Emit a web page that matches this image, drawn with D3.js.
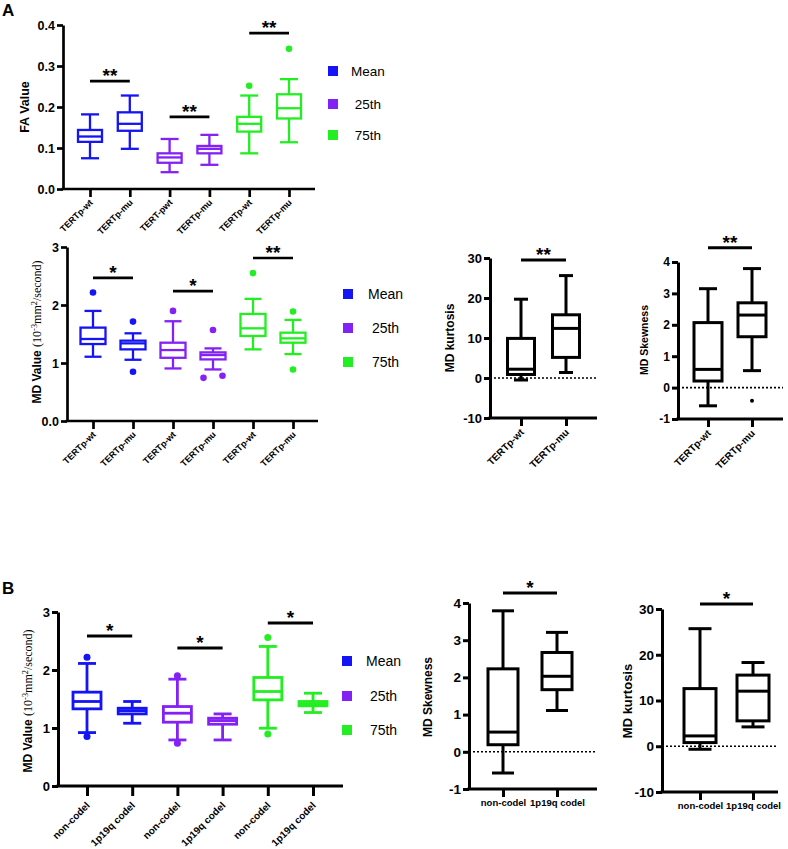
<!DOCTYPE html>
<html><head><meta charset="utf-8">
<script src="https://cdn.jsdelivr.net/npm/d3@7"></script>
<style>
body{margin:0;background:#fff;}
svg{display:block;font-family:"Liberation Sans",Arial,sans-serif;}
</style></head><body>
<svg id="c" width="788" height="849"></svg>
<script>
// ================= DATA =================
const groupColors = ["#1414f5", "#8422f5", "#22ee22"];
const legendLabels = ["Mean", " 25th", " 75th"];
const panelLetters = ["A", "B"];

// box stats: [lower whisker, Q1, median, Q3, upper whisker]
const faCategories = ["TERTp-wt", "TERTp-mu", "TERT-pwt", "TERTp-mu", "TERTp-wt", "TERTp-mu"];
const faBoxes = [
  [0.075, 0.115, 0.128, 0.144, 0.182],
  [0.098, 0.142, 0.159, 0.187, 0.228],
  [0.041, 0.064, 0.077, 0.087, 0.122],
  [0.059, 0.087, 0.098, 0.105, 0.132],
  [0.087, 0.140, 0.159, 0.176, 0.228],
  [0.114, 0.172, 0.197, 0.231, 0.268]
];
const faOutliers = [[], [], [], [], [0.252], [0.342]];
const faTicks = [0.0, 0.1, 0.2, 0.3, 0.4];
const faSig = [
  {from: 0, to: 1, level: 0.263, label: "**"},
  {from: 2, to: 3, level: 0.176, label: "**"},
  {from: 4, to: 5, level: 0.380, label: "**"}
];

const mdTertCategories = ["TERTp-wt", "TERTp-mu", "TERTp-wt", "TERTp-mu", "TERTp-wt", "TERTp-mu"];
const mdTertBoxes = [
  [1.108, 1.327, 1.414, 1.610, 1.898],
  [1.056, 1.235, 1.339, 1.385, 1.512],
  [0.906, 1.090, 1.223, 1.350, 1.720],
  [0.889, 1.062, 1.137, 1.183, 1.252],
  [1.235, 1.466, 1.598, 1.846, 2.106],
  [1.154, 1.350, 1.425, 1.523, 1.743]
];
const mdTertOutliers = [[2.216], [1.714, 0.848], [1.898], [1.569, 0.744, 0.779], [2.55], [1.887, 0.889]];
const mdTicks = [0, 1, 2, 3];
const mdTertSig = [
  {from: 0, to: 1, level: 2.466, label: "*"},
  {from: 2, to: 3, level: 2.24, label: "*"},
  {from: 4, to: 5, level: 2.81, label: "**"}
];

const tertCategories = ["TERTp-wt", "TERTp-mu"];
const kurtTertBoxes = [[-0.5, 0.88, 2.2, 9.9, 19.7], [1.38, 5.15, 12.4, 15.8, 25.6]];
const kurtTertOutliers = [[], []];
const kurtTicks = [-10, 0, 10, 20, 30];
const kurtTertSig = [{from: 0, to: 1, level: 29.5, label: "**"}];

const skewTertBoxes = [[-0.58, 0.21, 0.58, 2.07, 3.15], [0.54, 1.62, 2.31, 2.70, 3.79]];
const skewTertOutliers = [[], [-0.42]];
const skewTicks = [-1, 0, 1, 2, 3, 4];
const skewTertSig = [{from: 0, to: 1, level: 4.45, label: "**"}];

const codelCategories6 = ["non-codel", "1p19q codel", "non-codel", "1p19q codel", "non-codel", "1p19q codel"];
const mdCodelBoxes = [
  [0.921, 1.330, 1.457, 1.618, 2.113],
  [1.082, 1.243, 1.300, 1.341, 1.457],
  [0.794, 1.100, 1.255, 1.370, 1.842],
  [0.794, 1.065, 1.128, 1.169, 1.243],
  [0.996, 1.485, 1.629, 1.871, 2.406],
  [1.267, 1.382, 1.416, 1.457, 1.600]
];
const mdCodelOutliers = [[2.22, 0.852], [], [1.90, 0.737], [], [2.56, 0.898], []];
const mdCodelSig = [
  {from: 0, to: 1, level: 2.586, label: "*"},
  {from: 2, to: 3, level: 2.379, label: "*"},
  {from: 4, to: 5, level: 2.81, label: "*"}
];

const codelCategories = ["non-codel", "1p19q codel"];
const skewCodelBoxes = [[-0.57, 0.19, 0.53, 2.23, 3.79], [1.11, 1.67, 2.03, 2.67, 3.21]];
const skewCodelOutliers = [[], []];
const skewCodelSig = [{from: 0, to: 1, level: 4.27, label: "*"}];

const kurtCodelBoxes = [[-0.66, 0.80, 2.26, 12.6, 25.7], [4.23, 5.55, 12.04, 15.55, 18.3]];
const kurtCodelOutliers = [[], []];
const kurtCodelSig = [{from: 0, to: 1, level: 31.1, label: "*"}];

const mdUnitLabel = ["MD Value ", "(10", "-3", "mm", "2", "/second)"];

// ================= DRAWING =================
const svg = d3.select("#c");

function drawYLabel(g, text, L) {
  const t = g.append("text")
    .attr("transform", `translate(${L.labelX},${L.labelY}) rotate(-90)`)
    .attr("text-anchor", "middle").attr("dy", "0.35em")
    .style("font-weight", "bold").style("font-size", L.labelSize + "px");
  if (Array.isArray(text)) {
    t.append("tspan").text(text[0]);
    const serif = "'Liberation Serif','DejaVu Serif',serif";
    const sizes = [1, 0.7, 1, 0.7, 1];
    text.slice(1).forEach((s, k) => {
      const ts = t.append("tspan").text(s).style("font-family", serif).style("font-weight", "normal")
        .style("font-size", (L.labelSize * sizes[k]) + "px");
      if (sizes[k] < 1) ts.attr("baseline-shift", "super");
    });
  } else {
    t.text(text);
  }
}

function drawBoxPanel(d, L) {
  const g = svg.append("g");
  const n = d.cats.length;
  const x = d3.scalePoint().domain(d3.range(n)).range(L.pts);
  const y = d3.scaleLinear().domain(L.yDomain).range(L.yRange);
  const color = i => d.colors ? d.colors[Math.floor(i / 2)] : "#000";
  const yBase = y(L.yDomain[0]);

  if (L.zeroLine) {
    g.append("line").attr("x1", L.axisX).attr("x2", L.axisEnd)
      .attr("y1", y(0)).attr("y2", y(0))
      .attr("stroke", "#000").attr("stroke-width", 1.6).attr("stroke-dasharray", "2,2");
  }

  d.boxes.forEach((b, i) => {
    const cx = x(i), c = color(i);
    const bg = g.append("g").attr("stroke", c).attr("stroke-width", L.lw).attr("fill", "none");
    bg.append("line").attr("x1", cx).attr("x2", cx).attr("y1", y(b[0])).attr("y2", y(b[1]));
    bg.append("line").attr("x1", cx).attr("x2", cx).attr("y1", y(b[3])).attr("y2", y(b[4]));
    [b[0], b[4]].forEach(v => bg.append("line")
      .attr("x1", cx - L.capW / 2).attr("x2", cx + L.capW / 2).attr("y1", y(v)).attr("y2", y(v)));
    bg.append("rect").attr("x", cx - L.boxW / 2).attr("y", y(b[3]))
      .attr("width", L.boxW).attr("height", y(b[1]) - y(b[3])).attr("fill", "#fff");
    bg.append("line").attr("x1", cx - L.boxW / 2).attr("x2", cx + L.boxW / 2)
      .attr("y1", y(b[2])).attr("y2", y(b[2]));
    const outs = d.outliers[i];
    outs.forEach((v, k) => {
      let dx = 0;
      outs.forEach((w, m) => {
        if (m !== k && Math.abs(y(v) - y(w)) < 8) dx = (k < m ? -1 : 1) * L.boxW * 0.38;
      });
      g.append("circle").attr("cx", cx + dx).attr("cy", y(v)).attr("r", L.outR).attr("fill", c);
    });
  });

  // y axis
  const ya = g.append("g").attr("transform", `translate(${L.axisX},0)`)
    .call(d3.axisLeft(y).tickValues(d.ticks).tickSize(L.yTickLen).tickSizeOuter(0).tickPadding(2)
      .tickFormat(L.yFmt));
  ya.selectAll("path,line").attr("stroke", "#000").attr("stroke-width", L.axisW);
  ya.selectAll("text").style("font-size", L.yTickSize + "px").style("font-weight", "bold").attr("fill", "#000")
    .style("font-family", "'Liberation Sans',Arial,sans-serif");

  // x axis
  g.append("line").attr("x1", L.axisX - L.axisW / 2).attr("x2", L.axisEnd)
    .attr("y1", yBase).attr("y2", yBase).attr("stroke", "#000").attr("stroke-width", L.axisW);
  const xa = g.append("g").attr("transform", `translate(0,${yBase})`)
    .call(d3.axisBottom(x).tickSize(L.xTickLen).tickSizeOuter(0).tickPadding(2).tickFormat(i => d.cats[i]));
  xa.select(".domain").remove();
  xa.selectAll("line").attr("stroke", "#000").attr("stroke-width", L.axisW);
  const xt = xa.selectAll("text").style("font-size", L.xLabelSize + "px").style("font-weight", "bold")
    .attr("fill", "#000").style("font-family", "'Liberation Sans',Arial,sans-serif");
  if (L.rotate) {
    xt.attr("text-anchor", "end").attr("x", 0).attr("y", 0).attr("dy", 0)
      .attr("transform", `translate(${L.xlDx},${L.xlDy}) rotate(-45)`);
  }

  // significance
  d.sig.forEach(s => {
    const x1 = x(s.from), x2 = x(s.to), yy = y(s.level);
    g.append("line").attr("x1", x1).attr("x2", x2).attr("y1", yy).attr("y2", yy)
      .attr("stroke", "#000").attr("stroke-width", L.sigW);
    g.append("text").attr("x", (x1 + x2) / 2).attr("y", yy + 1).attr("text-anchor", "middle")
      .style("font-size", "19px").style("font-weight", "bold").text(s.label);
  });

  drawYLabel(g, d.yLabel, L);

  if (L.legend) {
    legendLabels.forEach((lab, k) => {
      const ly = L.legend.ys[k];
      g.append("rect").attr("x", L.legend.x).attr("y", ly - 5).attr("width", 10).attr("height", 10)
        .attr("fill", groupColors[k]);
      g.append("text").attr("x", L.legend.x + L.legend.tx).attr("y", ly).attr("dy", "0.35em")
        .style("font-size", L.legend.size + "px").style("white-space", "pre").text(lab);
    });
  }
}

const f1 = d3.format(".1f");
const plain = v => String(v);
const zeroDec = v => v === 0 ? "0.0" : String(v);

// Panel A: FA
drawBoxPanel({cats: faCategories, boxes: faBoxes, outliers: faOutliers, ticks: faTicks, sig: faSig, yLabel: "FA Value", colors: groupColors},
  {axisX: 63, axisEnd: 315, pts: [90, 289], yDomain: [0, 0.4], yRange: [189, 25], boxW: 24, capW: 18, lw: 2.3, axisW: 2.7,
   yTickLen: 6, xTickLen: 8, yFmt: f1, yTickSize: 12.5, xLabelSize: 9, rotate: true, xlDx: 3, xlDy: 14, sigW: 2.7, outR: 3.3,
   labelX: 25, labelY: 107, labelSize: 12.5, legend: {x: 328, ys: [71, 104, 135], tx: 23, size: 13.5}});

// Panel A: MD
drawBoxPanel({cats: mdTertCategories, boxes: mdTertBoxes, outliers: mdTertOutliers, ticks: mdTicks, sig: mdTertSig, yLabel: mdUnitLabel, colors: groupColors},
  {axisX: 67, axisEnd: 318, pts: [93, 293], yDomain: [0, 3], yRange: [421, 247], boxW: 25, capW: 17, lw: 2.3, axisW: 2.7,
   yTickLen: 6, xTickLen: 8, yFmt: zeroDec, yTickSize: 12.5, xLabelSize: 9, rotate: true, xlDx: 3, xlDy: 14, sigW: 2.7, outR: 3.3,
   labelX: 37, labelY: 332, labelSize: 12, legend: {x: 343, ys: [294, 328, 362], tx: 25, size: 14}});

// Panel A: MD kurtosis
drawBoxPanel({cats: tertCategories, boxes: kurtTertBoxes, outliers: kurtTertOutliers, ticks: kurtTicks, sig: kurtTertSig, yLabel: "MD kurtosis"},
  {axisX: 490, axisEnd: 597, pts: [521, 566], yDomain: [-10, 30], yRange: [418, 258], boxW: 27, capW: 14, lw: 3, axisW: 3,
   yTickLen: 6, xTickLen: 8, yFmt: plain, yTickSize: 13, xLabelSize: 10, rotate: true, xlDx: 3, xlDy: 15, sigW: 3, outR: 2,
   labelX: 450, labelY: 338, labelSize: 12, zeroLine: true});

// Panel A: MD Skewness
drawBoxPanel({cats: tertCategories, boxes: skewTertBoxes, outliers: skewTertOutliers, ticks: skewTicks, sig: skewTertSig, yLabel: "MD Skewness"},
  {axisX: 678, axisEnd: 783, pts: [708, 752], yDomain: [-1, 4], yRange: [419, 262], boxW: 28, capW: 18, lw: 3, axisW: 3,
   yTickLen: 6, xTickLen: 8, yFmt: plain, yTickSize: 12, xLabelSize: 10, rotate: true, xlDx: 3, xlDy: 15, sigW: 3, outR: 2,
   labelX: 644, labelY: 340, labelSize: 10.5, zeroLine: true});

// Panel B: MD
drawBoxPanel({cats: codelCategories6, boxes: mdCodelBoxes, outliers: mdCodelOutliers, ticks: mdTicks, sig: mdCodelSig, yLabel: mdUnitLabel, colors: groupColors},
  {axisX: 58, axisEnd: 343, pts: [87, 313], yDomain: [0, 3], yRange: [786, 612], boxW: 28, capW: 18, lw: 2.8, axisW: 3,
   yTickLen: 6, xTickLen: 10, yFmt: plain, yTickSize: 13, xLabelSize: 10, rotate: true, xlDx: 3, xlDy: 20, sigW: 3, outR: 3.5,
   labelX: 28, labelY: 701, labelSize: 12, legend: {x: 342, ys: [661, 696, 730], tx: 24, size: 14}});

// Panel B: MD Skewness
drawBoxPanel({cats: codelCategories, boxes: skewCodelBoxes, outliers: skewCodelOutliers, ticks: skewTicks, sig: skewCodelSig, yLabel: "MD Skewness"},
  {axisX: 469, axisEnd: 597, pts: [503, 557], yDomain: [-1, 4], yRange: [789, 603], boxW: 30, capW: 22, lw: 3, axisW: 3,
   yTickLen: 6, xTickLen: 8, yFmt: plain, yTickSize: 13.5, xLabelSize: 9.5, rotate: false, sigW: 3, outR: 2,
   labelX: 428, labelY: 697, labelSize: 12, zeroLine: true});

// Panel B: MD kurtosis
drawBoxPanel({cats: codelCategories, boxes: kurtCodelBoxes, outliers: kurtCodelOutliers, ticks: kurtTicks, sig: kurtCodelSig, yLabel: "MD kurtosis"},
  {axisX: 662, axisEnd: 778, pts: [700, 753], yDomain: [-10, 30], yRange: [792, 609], boxW: 32, capW: 23, lw: 3, axisW: 3,
   yTickLen: 6, xTickLen: 8, yFmt: plain, yTickSize: 13.5, xLabelSize: 9.5, rotate: false, sigW: 3, outR: 2,
   labelX: 627, labelY: 701, labelSize: 13, zeroLine: true});

// panel letters
svg.append("text").attr("x", 2).attr("y", 16).style("font-size", "17px").style("font-weight", "bold").text(panelLetters[0]);
svg.append("text").attr("x", 2).attr("y", 594).style("font-size", "17px").style("font-weight", "bold").text(panelLetters[1]);
</script>
</body></html>
